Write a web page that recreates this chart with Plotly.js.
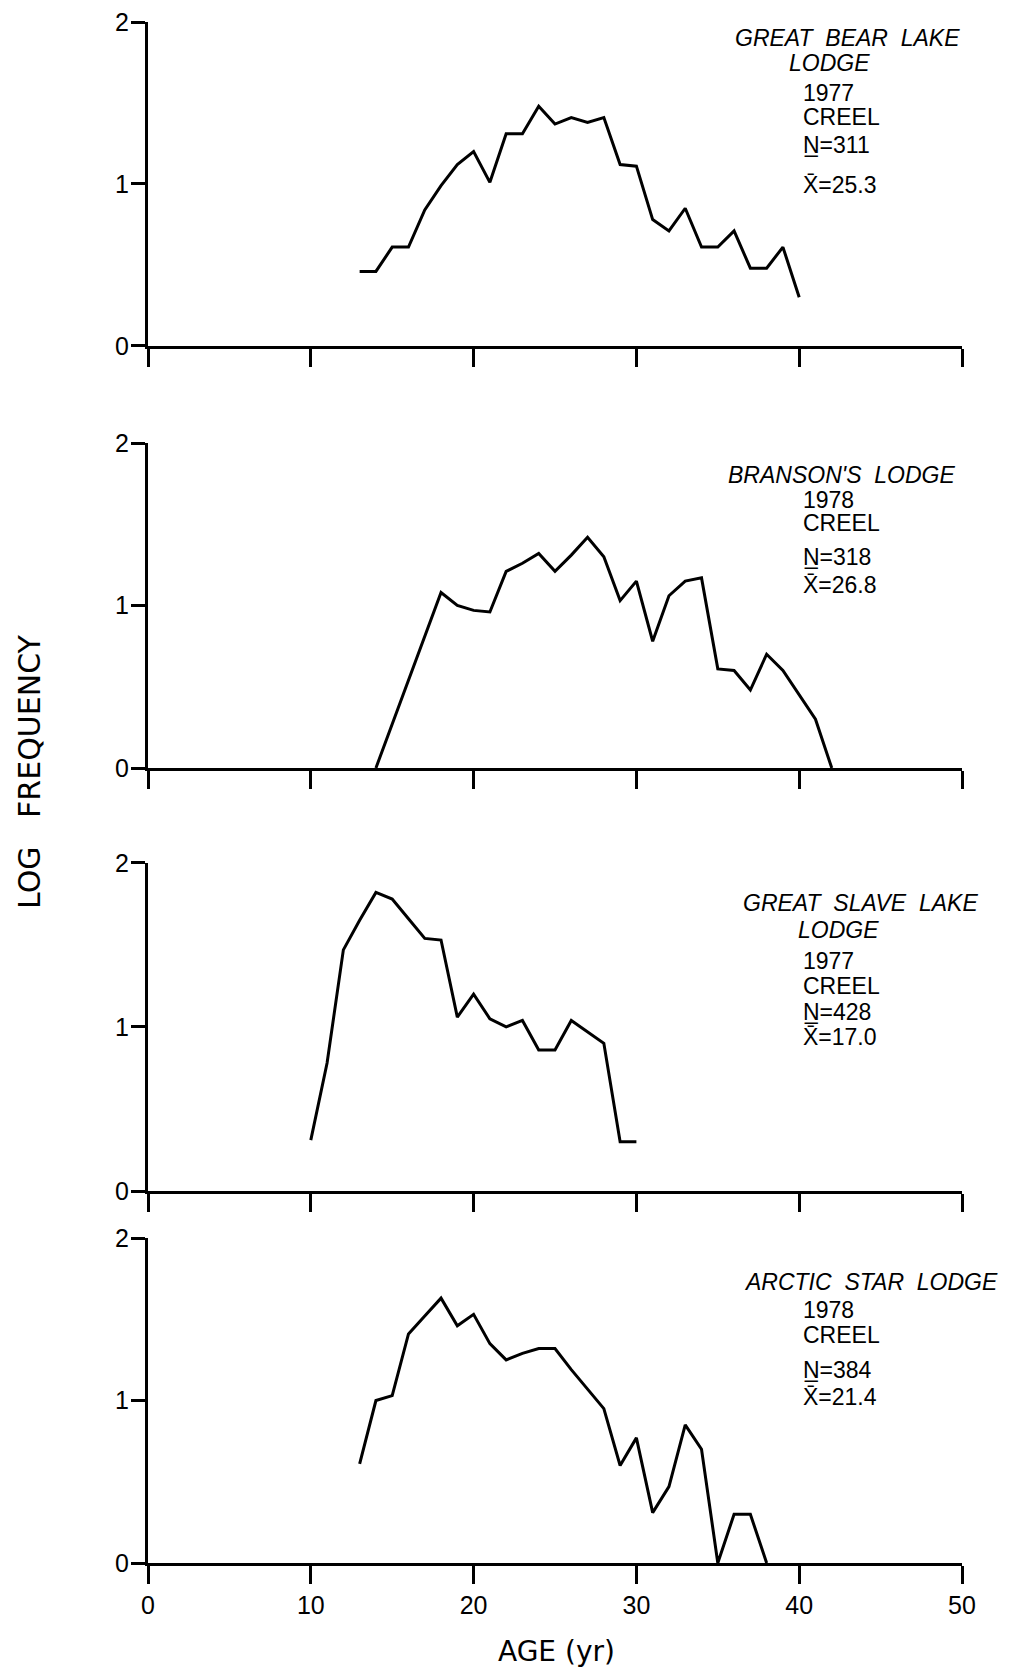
<!DOCTYPE html>
<html>
<head>
<meta charset="utf-8">
<script src="https://cdn.plot.ly/plotly-3.0.1.min.js"></script>
<style>html,body{margin:0;padding:0;background:#fff;}#chart{width:1012px;height:1671px;}</style>
</head>
<body>
<div id="chart"></div>
<script>
// ---- data ----
const agesBear = [13,14,15,16,17,18,19,20,21,22,23,24,25,26,27,28,29,30,31,32,33,34,35,36,37,38,39,40];
const logBear  = [0.46,0.46,0.61,0.61,0.84,0.99,1.12,1.20,1.01,1.31,1.31,1.48,1.37,1.41,1.38,1.41,1.12,1.11,0.78,0.71,0.85,0.61,0.61,0.71,0.48,0.48,0.61,0.30];

const agesBranson = [14,18,19,20,21,22,23,24,25,26,27,28,29,30,31,32,33,34,35,36,37,38,39,40,41,42];
const logBranson  = [0,1.08,1.00,0.97,0.96,1.21,1.26,1.32,1.21,1.31,1.42,1.30,1.03,1.15,0.78,1.06,1.15,1.17,0.61,0.60,0.48,0.70,0.60,0.45,0.30,0];

const agesSlave = [10,11,12,13,14,15,16,17,18,19,20,21,22,23,24,25,26,27,28,29,30];
const logSlave  = [0.31,0.78,1.47,1.65,1.82,1.78,1.66,1.54,1.53,1.06,1.20,1.05,1.00,1.04,0.86,0.86,1.04,0.97,0.90,0.30,0.30];

const agesArctic = [13,14,15,16,17,18,19,20,21,22,23,24,25,26,27,28,29,30,31,32,33,34,35,36,37,38];
const logArctic  = [0.61,1.00,1.03,1.41,1.52,1.63,1.46,1.53,1.35,1.25,1.29,1.32,1.32,1.19,1.07,0.95,0.60,0.77,0.31,0.47,0.85,0.70,0,0.30,0.30,0];

const xTicks = [0,10,20,30,40,50];
const yTicks = [0,1,2];

const panelNames = [["GREAT\u00A0\u00A0BEAR\u00A0\u00A0LAKE","LODGE"],["BRANSON'S\u00A0\u00A0LODGE"],["GREAT\u00A0\u00A0SLAVE\u00A0\u00A0LAKE","LODGE"],["ARCTIC\u00A0\u00A0STAR\u00A0\u00A0LODGE"]];
const panelYears = ["1977","1978","1977","1978"];
const panelN = ["311","318","428","384"];
const panelMean = ["25.3","26.8","17.0","21.4"];

// ---- layout ----
const FONT = "Liberation Sans, DejaVu Sans, sans-serif";
const domains = [[0.7898,1.0],[0.5159,0.7268],[0.2414,0.4543],[0.0,0.2109]];
const series = [[agesBear,logBear],[agesBranson,logBranson],[agesSlave,logSlave],[agesArctic,logArctic]];

const traces = series.map((s,i)=>({
  x:s[0], y:s[1], type:'scatter', mode:'lines',
  line:{color:'#000', width:3}, cliponaxis:false,
  xaxis: i===0?'x':'x'+(i+1), yaxis: i===0?'y':'y'+(i+1), showlegend:false, hoverinfo:'skip'
}));

const layout = {
  width:1012, height:1671,
  margin:{l:148, r:50, t:22, b:108},
  paper_bgcolor:'#fff', plot_bgcolor:'#fff',
  showlegend:false,
  font:{family:FONT, color:'#000'},
  annotations:[]
};

for(let i=0;i<4;i++){
  const xs = i===0?'':String(i+1);
  layout['xaxis'+xs] = {
    domain:[0,1], anchor:'y'+xs, range:[0,50], tickvals:xTicks,
    showline:true, linewidth:3, linecolor:'#000',
    ticks:'outside', ticklen:18, tickwidth:3, tickcolor:'#000',
    showgrid:false, zeroline:false, showticklabels: i===3,
    tickfont:{size:25, family:FONT}
  };
  layout['yaxis'+xs] = {
    domain:domains[i], anchor:'x'+xs, range:[0,2], tickvals:yTicks,
    showline:true, linewidth:3, linecolor:'#000',
    ticks:'outside', ticklen:14, tickwidth:3, tickcolor:'#000',
    showgrid:false, zeroline:false, ticklabelstandoff:-3,
    tickfont:{size:25, family:FONT}
  };
}

// per-panel label positions (fractions of each panel's domain)
const namePos = [[[0.859,0.951],[0.837,0.873]],[[0.852,0.902]],[[0.875,0.878],[0.848,0.796]],[[0.888,0.865]]];
const statY = [[0.781,0.708,0.620,0.497],[0.826,0.754,0.649,0.563],[0.700,0.626,0.546,0.468],[0.778,0.702,0.594,0.511]];
const statX = 0.802;

for(let i=0;i<4;i++){
  const xs = i===0?'':String(i+1);
  const xr = 'x'+xs+' domain', yr = 'y'+xs+' domain';
  panelNames[i].forEach((t,j)=>{
    layout.annotations.push({xref:xr, yref:yr, x:namePos[i][j][0], y:namePos[i][j][1],
      text:'<i>'+t+'</i>', showarrow:false, xanchor:'center', yanchor:'middle',
      font:{size:23, family:FONT}});
  });
  const lines = [panelYears[i], 'CREEL', 'N\u0332=' + panelN[i], 'X\u0304=' + panelMean[i]];
  lines.forEach((t,j)=>{
    layout.annotations.push({xref:xr, yref:yr, x:statX, y:statY[i][j],
      text:t, showarrow:false, xanchor:'left', yanchor:'middle',
      font:{size:23, family:FONT}});
  });
}

// axis titles
layout.annotations.push({xref:'paper', yref:'paper', x:(29-148)/814, y:(1563-772)/1541,
  text:'LOG\u00A0\u00A0\u00A0FREQUENCY', textangle:-90, showarrow:false, xanchor:'center', yanchor:'middle',
  font:{size:30, family:'DejaVu Sans, sans-serif'}});
layout.annotations.push({xref:'paper', yref:'paper', x:(556-148)/814, y:(1563-1651)/1541,
  text:'AGE\u00A0(yr)', showarrow:false, xanchor:'center', yanchor:'middle',
  font:{size:28, family:'DejaVu Sans, sans-serif'}});

Plotly.newPlot('chart', traces, layout, {staticPlot:true, displayModeBar:false});
</script>
</body>
</html>
